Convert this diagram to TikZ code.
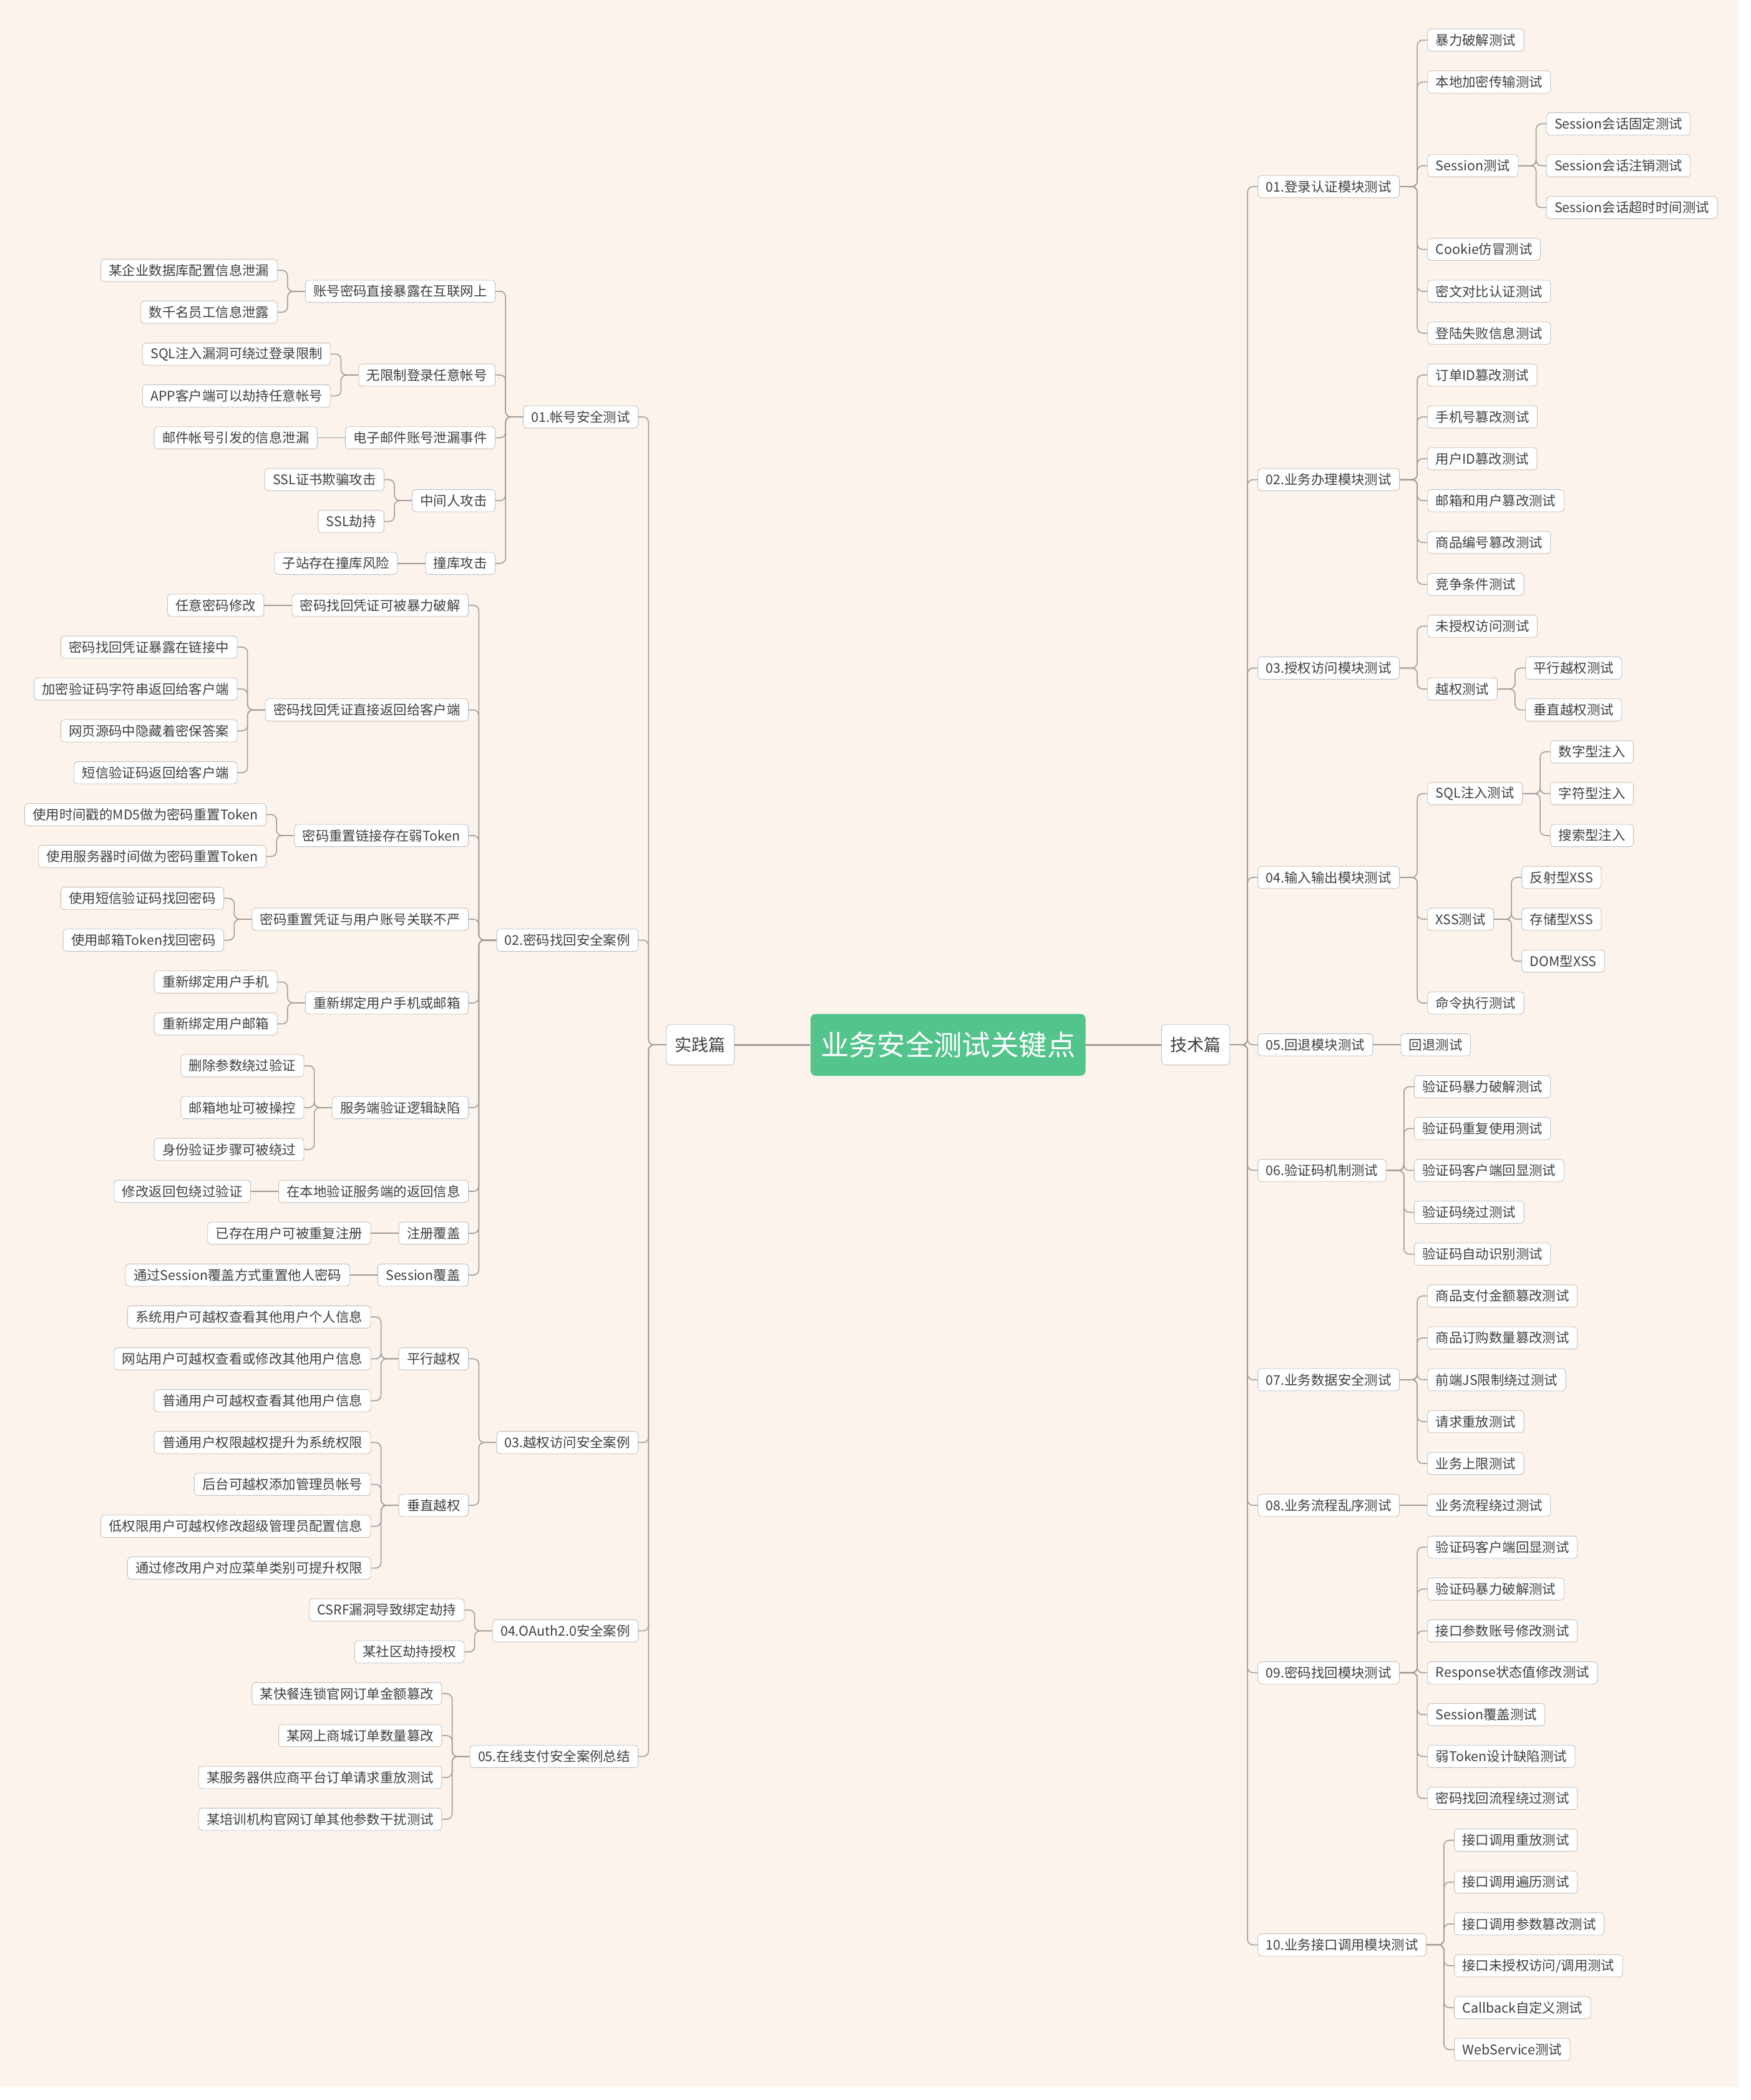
\documentclass[tikz,border=0pt]{standalone}
\usepackage{fontspec}
\setmainfont{Noto Sans CJK SC}
\usetikzlibrary{positioning,calc}

\definecolor{paper}{HTML}{FCF3ED}
\definecolor{frame}{HTML}{C2BEBB}
\definecolor{wire}{HTML}{9D9996}
\definecolor{ink}{HTML}{404040}
\definecolor{mint}{HTML}{52C48C}

\tikzset{
  topic/.style={draw=frame, fill=white, rounded corners=2.5pt, text=ink,
    font=\fontsize{9.9}{12}\selectfont, inner xsep=6pt, inner ysep=0pt, minimum height=16.5pt},
  rtopic/.style={topic, anchor=west},
  ltopic/.style={topic, anchor=east},
  part/.style={topic, font=\fontsize{12.5}{14}\selectfont, inner xsep=6.5pt, minimum height=30pt, rounded corners=3pt},
  root/.style={fill=mint, text=white, rounded corners=4pt, font=\fontsize{21}{24}\selectfont,
    inner xsep=7.5pt, inner ysep=0pt, minimum height=46pt},
  branch/.style={draw=wire, line width=0.7pt, rounded corners=4pt},
  trunk/.style={draw=wire, line width=1.3pt},
}

\newcommand{\kidsR}[2]{%
  \coordinate (#1-k) at ([xshift=20.5pt]#1.east);
  \foreach \nm/\rw/\tx in {#2}{
    \node[rtopic] (\nm) at (#1-k |- 0,\rw) {\tx};
    \draw[branch] (#1.east) -- ++(13pt,0) |- (\nm.west);
  }}
\newcommand{\kidsL}[2]{%
  \coordinate (#1-k) at ([xshift=-20.5pt]#1.west);
  \foreach \nm/\rw/\tx in {#2}{
    \node[ltopic] (\nm) at (#1-k |- 0,\rw) {\tx};
    \draw[branch] (#1.west) -- ++(-13pt,0) |- (\nm.east);
  }}
\newcommand{\oneR}[3]{%
  \node[rtopic] (#2) at ([xshift=20.5pt]#1.east) {#3};
  \draw[branch] (#1) -- (#2);}
\newcommand{\oneL}[3]{%
  \node[ltopic] (#2) at ([xshift=-20.5pt]#1.west) {#3};
  \draw[branch] (#1) -- (#2);}

\begin{document}
\begin{tikzpicture}[x=1pt, y=-31.04pt]
\fill[white] (0,-0.9584) rectangle (1298,49.206);
\fill[paper] (0,-0.9584) rectangle (1289.2,48.893);
\useasboundingbox (0,-0.9584) rectangle (1298,49.206);

\node[root] (core) at (703,24) {业务安全测试关键点};
\node[part] (shijian) [left=56pt of core] {实践篇};
\node[part] (jishu) [right=56pt of core] {技术篇};
\draw[trunk] (core) -- (shijian) (core) -- (jishu);

\kidsR{jishu}{
r01/3.5/01.登录认证模块测试,
r02/10.5/02.业务办理模块测试,
r03/15/03.授权访问模块测试,
r04/20/04.输入输出模块测试,
r05/24/05.回退模块测试,
r06/27/06.验证码机制测试,
r07/32/07.业务数据安全测试,
r08/35/08.业务流程乱序测试,
r09/39/09.密码找回模块测试,
r10/45.5/10.业务接口调用模块测试}

\kidsR{r01}{
r01a/0/暴力破解测试,
r01b/1/本地加密传输测试,
r01c/3/Session测试,
r01d/5/Cookie仿冒测试,
r01e/6/密文对比认证测试,
r01f/7/登陆失败信息测试}
\kidsR{r01c}{
r01c1/2/Session会话固定测试,
r01c2/3/Session会话注销测试,
r01c3/4/Session会话超时时间测试}
\kidsR{r02}{
r02a/8/订单ID篡改测试,
r02b/9/手机号篡改测试,
r02c/10/用户ID篡改测试,
r02d/11/邮箱和用户篡改测试,
r02e/12/商品编号篡改测试,
r02f/13/竞争条件测试}
\kidsR{r03}{
r03a/14/未授权访问测试,
r03b/15.5/越权测试}
\kidsR{r03b}{
r03b1/15/平行越权测试,
r03b2/16/垂直越权测试}
\kidsR{r04}{
r04a/18/SQL注入测试,
r04b/21/XSS测试,
r04c/23/命令执行测试}
\kidsR{r04a}{
r04a1/17/数字型注入,
r04a2/18/字符型注入,
r04a3/19/搜索型注入}
\kidsR{r04b}{
r04b1/20/反射型XSS,
r04b2/21/存储型XSS,
r04b3/22/DOM型XSS}
\oneR{r05}{r05a}{回退测试}
\kidsR{r06}{
r06a/25/验证码暴力破解测试,
r06b/26/验证码重复使用测试,
r06c/27/验证码客户端回显测试,
r06d/28/验证码绕过测试,
r06e/29/验证码自动识别测试}
\kidsR{r07}{
r07a/30/商品支付金额篡改测试,
r07b/31/商品订购数量篡改测试,
r07c/32/前端JS限制绕过测试,
r07d/33/请求重放测试,
r07e/34/业务上限测试}
\oneR{r08}{r08a}{业务流程绕过测试}
\kidsR{r09}{
r09a/36/验证码客户端回显测试,
r09b/37/验证码暴力破解测试,
r09c/38/接口参数账号修改测试,
r09d/39/Response状态值修改测试,
r09e/40/Session覆盖测试,
r09f/41/弱Token设计缺陷测试,
r09g/42/密码找回流程绕过测试}
\kidsR{r10}{
r10a/43/接口调用重放测试,
r10b/44/接口调用遍历测试,
r10c/45/接口调用参数篡改测试,
r10d/46/{接口未授权访问/调用测试},
r10e/47/Callback自定义测试,
r10f/48/WebService测试}

\kidsL{shijian}{
l01/9/01.帐号安全测试,
l02/21.5/02.密码找回安全案例,
l03/33.5/03.越权访问安全案例,
l04/38/04.OAuth2.0安全案例,
l05/41/05.在线支付安全案例总结}

\kidsL{l01}{
l01a/6/账号密码直接暴露在互联网上,
l01b/8/无限制登录任意帐号,
l01c/9.5/电子邮件账号泄漏事件,
l01d/11/中间人攻击,
l01e/12.5/撞库攻击}
\kidsL{l01a}{
l01a1/5.5/某企业数据库配置信息泄漏,
l01a2/6.5/数千名员工信息泄露}
\kidsL{l01b}{
l01b1/7.5/SQL注入漏洞可绕过登录限制,
l01b2/8.5/APP客户端可以劫持任意帐号}
\oneL{l01c}{l01c1}{邮件帐号引发的信息泄漏}
\kidsL{l01d}{
l01d1/10.5/SSL证书欺骗攻击,
l01d2/11.5/SSL劫持}
\oneL{l01e}{l01e1}{子站存在撞库风险}

\kidsL{l02}{
l02a/13.5/密码找回凭证可被暴力破解,
l02b/16/密码找回凭证直接返回给客户端,
l02c/19/密码重置链接存在弱Token,
l02d/21/密码重置凭证与用户账号关联不严,
l02e/23/重新绑定用户手机或邮箱,
l02f/25.5/服务端验证逻辑缺陷,
l02g/27.5/在本地验证服务端的返回信息,
l02h/28.5/注册覆盖,
l02i/29.5/Session覆盖}
\oneL{l02a}{l02a1}{任意密码修改}
\kidsL{l02b}{
l02b1/14.5/密码找回凭证暴露在链接中,
l02b2/15.5/加密验证码字符串返回给客户端,
l02b3/16.5/网页源码中隐藏着密保答案,
l02b4/17.5/短信验证码返回给客户端}
\kidsL{l02c}{
l02c1/18.5/使用时间戳的MD5做为密码重置Token,
l02c2/19.5/使用服务器时间做为密码重置Token}
\kidsL{l02d}{
l02d1/20.5/使用短信验证码找回密码,
l02d2/21.5/使用邮箱Token找回密码}
\kidsL{l02e}{
l02e1/22.5/重新绑定用户手机,
l02e2/23.5/重新绑定用户邮箱}
\kidsL{l02f}{
l02f1/24.5/删除参数绕过验证,
l02f2/25.5/邮箱地址可被操控,
l02f3/26.5/身份验证步骤可被绕过}
\oneL{l02g}{l02g1}{修改返回包绕过验证}
\oneL{l02h}{l02h1}{已存在用户可被重复注册}
\oneL{l02i}{l02i1}{通过Session覆盖方式重置他人密码}

\kidsL{l03}{
l03a/31.5/平行越权,
l03b/35/垂直越权}
\kidsL{l03a}{
l03a1/30.5/系统用户可越权查看其他用户个人信息,
l03a2/31.5/网站用户可越权查看或修改其他用户信息,
l03a3/32.5/普通用户可越权查看其他用户信息}
\kidsL{l03b}{
l03b1/33.5/普通用户权限越权提升为系统权限,
l03b2/34.5/后台可越权添加管理员帐号,
l03b3/35.5/低权限用户可越权修改超级管理员配置信息,
l03b4/36.5/通过修改用户对应菜单类别可提升权限}

\kidsL{l04}{
l04a/37.5/CSRF漏洞导致绑定劫持,
l04b/38.5/某社区劫持授权}
\kidsL{l05}{
l05a/39.5/某快餐连锁官网订单金额篡改,
l05b/40.5/某网上商城订单数量篡改,
l05c/41.5/某服务器供应商平台订单请求重放测试,
l05d/42.5/某培训机构官网订单其他参数干扰测试}
\end{tikzpicture}
\end{document}
